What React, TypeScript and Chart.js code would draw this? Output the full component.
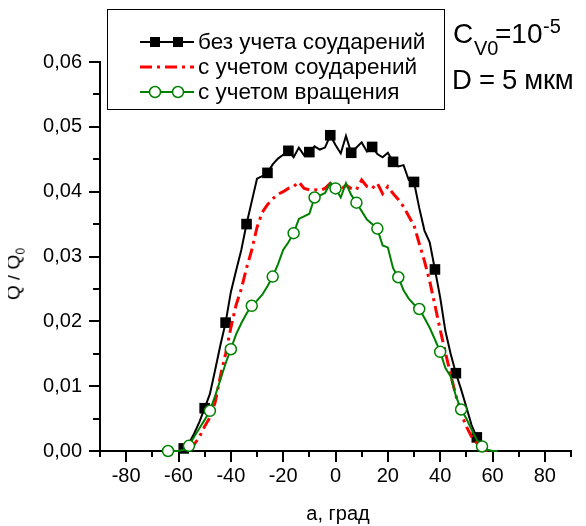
import React, { useEffect, useRef } from 'react';
import { Chart, registerables } from 'chart.js';

Chart.register(...registerables);

// ---- data ----
const angles = [
  -64, -62, -60, -58, -56, -54, -52, -50, -48, -46, -44, -42, -40, -38, -36, -34,
  -32, -30, -28, -26, -24, -22, -20, -18, -16, -14, -12, -10, -8, -6, -4, -2,
  0, 2, 4, 6, 8, 10, 12, 14, 16, 18, 20, 22, 24, 26, 28, 30,
  32, 34, 36, 38, 40, 42, 44, 46, 48, 50, 52, 54, 56, 58, 60, 62,
];

// без учета соударений (black, squares)
const noCollisions = [
  null, null, null, 0.0004, 0.0012, 0.0027, 0.0045, 0.0066, 0.0088, 0.0125, 0.0163, 0.0198, 0.0245, 0.0278, 0.031, 0.035,
  0.0385, 0.042, 0.0424, 0.0429, 0.0442, 0.0451, 0.0457, 0.0463, 0.0453, 0.0468, 0.0456, 0.0461, 0.047, 0.0465, 0.0468, 0.0487,
  0.0472, 0.0459, 0.0486, 0.046, 0.0468, 0.0476, 0.0462, 0.0469, 0.0458, 0.0453, 0.046, 0.0446, 0.0439, 0.0441, 0.0418, 0.0415,
  0.0375, 0.034, 0.0322, 0.028, 0.0237, 0.0185, 0.015, 0.012, 0.0095, 0.0068, 0.004, 0.0021, 0.0, null, null, null,
];

// с учетом соударений (red, dash-dot)
const withCollisions = [
  null, null, null, null, 0.0004, 0.001, 0.0022, 0.0038, 0.0052, 0.0075, 0.0115, 0.015, 0.019, 0.0225, 0.025, 0.0282,
  0.031, 0.0345, 0.0368, 0.038, 0.0389, 0.0396, 0.04, 0.0405, 0.0408, 0.0415, 0.0405, 0.0403, 0.0403, 0.0402, 0.0405, 0.0413,
  0.0405, 0.0403, 0.041, 0.0405, 0.0403, 0.0418, 0.0408, 0.0405, 0.0413, 0.0397, 0.0408, 0.0397, 0.0388, 0.0377, 0.0362, 0.0348,
  0.032, 0.0293, 0.0262, 0.0225, 0.0187, 0.0152, 0.0118, 0.0086, 0.0058, 0.0038, 0.0022, 0.0012, 0.0005, 0.0, null, null,
];

// с учетом вращения (green, circles)
const withRotation = [
  0.0, 0.0, 0.0, 0.0002, 0.0008, 0.0022, 0.0035, 0.0048, 0.0062, 0.0085, 0.011, 0.0135, 0.0157, 0.018, 0.0197, 0.0212,
  0.0224, 0.0232, 0.0241, 0.0254, 0.0269, 0.0288, 0.031, 0.0322, 0.0336, 0.0358, 0.0362, 0.0366, 0.0391, 0.0394, 0.0398, 0.0413,
  0.0405, 0.0391, 0.0413, 0.0395, 0.0383, 0.037, 0.0357, 0.035, 0.0343, 0.0317, 0.0314, 0.0282, 0.0268, 0.0248, 0.0235, 0.0226,
  0.0219, 0.0205, 0.019, 0.0172, 0.0153, 0.0128, 0.0115, 0.0085, 0.0064, 0.005, 0.0033, 0.0017, 0.0007, 0.0002, 0.0, 0.0,
];

const blackMarkerAngles = [-58, -50, -42, -34, -26, -18, -10, -2, 6, 14, 22, 30, 38, 46, 54];
const greenMarkerAngles = [-64, -56, -48, -40, -32, -24, -16, -8, 0, 8, 16, 24, 32, 40, 48, 56];

const xMajorTicks = [-80, -60, -40, -20, 0, 20, 40, 60, 80];
const xMinorTicks = [-90, -70, -50, -30, -10, 10, 30, 50, 70, 90];
const yMajorTicks = [0, 0.01, 0.02, 0.03, 0.04, 0.05, 0.06];
const yMinorTicks = [0.005, 0.015, 0.025, 0.035, 0.045, 0.055];

const legendLabels = ['без учета соударений', 'с учетом соударений', 'с учетом вращения'];

const FONT = "'Liberation Sans', Arial, sans-serif";
const GREEN = '#008000';
const RED = '#ff0000';

const toPoints = (vals: (number | null)[]) => angles.map((a, i) => ({ x: a, y: vals[i] }));

const minorTicksPlugin = {
  id: 'minorTicks',
  afterDraw(chart: any) {
    const { ctx, chartArea, scales } = chart;
    ctx.save();
    ctx.strokeStyle = '#000';
    ctx.lineWidth = 2;
    ctx.beginPath();
    xMinorTicks.forEach((v) => {
      const p = Math.round(scales.x.getPixelForValue(v));
      ctx.moveTo(p, chartArea.bottom);
      ctx.lineTo(p, chartArea.bottom + 6);
    });
    yMinorTicks.forEach((v) => {
      const p = Math.round(scales.y.getPixelForValue(v));
      ctx.moveTo(chartArea.left, p);
      ctx.lineTo(chartArea.left - 7, p);
    });
    ctx.stroke();
    ctx.restore();
  },
};

function ChartCanvas() {
  const ref = useRef<HTMLCanvasElement | null>(null);
  useEffect(() => {
    if (!ref.current) return;
    const chart = new Chart(ref.current, {
      type: 'line',
      data: {
        datasets: [
          {
            label: legendLabels[0],
            data: toPoints(noCollisions),
            borderColor: '#000',
            borderWidth: 2,
            backgroundColor: '#000',
            pointStyle: 'rect',
            pointBackgroundColor: '#000',
            pointBorderColor: '#000',
            pointBorderWidth: 0,
            pointRadius: (c: any) => (blackMarkerAngles.includes(angles[c.dataIndex]) ? 7.5 : 0),
            tension: 0,
            clip: false,
            order: 2,
          },
          {
            label: legendLabels[1],
            data: toPoints(withCollisions),
            borderColor: RED,
            borderWidth: 3,
            borderDash: [12, 5, 3, 5],
            pointRadius: 0,
            tension: 0,
            clip: false,
            order: 1,
          },
          {
            label: legendLabels[2],
            data: toPoints(withRotation),
            borderColor: GREEN,
            borderWidth: 2,
            pointStyle: 'circle',
            pointBackgroundColor: '#fff',
            pointBorderColor: GREEN,
            pointBorderWidth: 1.5,
            pointRadius: (c: any) => (greenMarkerAngles.includes(angles[c.dataIndex]) ? 5.5 : 0),
            tension: 0,
            clip: false,
            order: 0,
          },
        ],
      },
      options: {
        responsive: false,
        animation: false,
        events: [],
        layout: { padding: { top: 54, left: 0, right: 2, bottom: 0 } },
        plugins: { legend: { display: false }, tooltip: { enabled: false } },
        scales: {
          x: {
            type: 'linear',
            min: -90,
            max: 90,
            afterBuildTicks: (s: any) => {
              s.ticks = xMajorTicks.map((v) => ({ value: v }));
            },
            afterFit: (s: any) => {
              s.height = 67;
            },
            ticks: {
              color: '#000',
              font: { family: FONT, size: 20 },
              padding: 2,
              maxRotation: 0,
              autoSkip: false,
              callback: (v: any) => String(v),
            },
            grid: { display: true, drawOnChartArea: false, drawTicks: true, tickLength: 11, color: '#000', lineWidth: 2 },
            border: { display: true, color: '#000', width: 2 },
          },
          y: {
            type: 'linear',
            min: 0,
            max: 0.06,
            afterBuildTicks: (s: any) => {
              s.ticks = yMajorTicks.map((v) => ({ value: v }));
            },
            afterFit: (s: any) => {
              s.width = 92;
            },
            ticks: {
              color: '#000',
              font: { family: FONT, size: 20 },
              padding: 7,
              autoSkip: false,
              callback: (v: any) => Number(v).toFixed(2).replace('.', ','),
            },
            grid: { display: true, drawOnChartArea: false, drawTicks: true, tickLength: 11, color: '#000', lineWidth: 2 },
            border: { display: true, color: '#000', width: 2 },
          },
        },
      },
      plugins: [minorTicksPlugin],
    } as any);
    return () => chart.destroy();
  }, []);
  return <canvas ref={ref} width={570} height={510} style={{ display: 'block', width: 570, height: 510 }} />;
}

function LegendSample({ kind }: { kind: number }) {
  if (kind === 0) {
    return (
      <svg width={54} height={24}>
        <line x1={0} y1={12} x2={54} y2={12} stroke="#000" strokeWidth={2} />
        <rect x={10} y={7} width={10} height={10} fill="#000" />
        <rect x={33} y={7} width={10} height={10} fill="#000" />
      </svg>
    );
  }
  if (kind === 1) {
    return (
      <svg width={54} height={24}>
        <line x1={0} y1={12} x2={54} y2={12} stroke={RED} strokeWidth={3} strokeDasharray="12 5 3 5" />
      </svg>
    );
  }
  return (
    <svg width={54} height={24}>
      <line x1={0} y1={12} x2={54} y2={12} stroke={GREEN} strokeWidth={2} />
      <circle cx={15} cy={12} r={5.5} fill="#fff" stroke={GREEN} strokeWidth={1.5} />
      <circle cx={38} cy={12} r={5.5} fill="#fff" stroke={GREEN} strokeWidth={1.5} />
    </svg>
  );
}

const abs = (left: number, top: number, size: number): React.CSSProperties => ({
  position: 'absolute',
  left,
  top,
  fontFamily: FONT,
  fontSize: size,
  lineHeight: `${size}px`,
  whiteSpace: 'nowrap',
});

export default function App() {
  useEffect(() => {
    const prev = document.documentElement.style.overflow;
    document.documentElement.style.overflow = 'hidden';
    return () => {
      document.documentElement.style.overflow = prev;
    };
  }, []);
  const rowTops = [33, 58, 83];
  return (
    <div style={{ position: 'relative', width: 570, height: 518, fontFamily: FONT, color: '#000' }}>
      <ChartCanvas />
      {/* legend */}
      <div
        style={{
          position: 'absolute',
          left: 99,
          top: 1,
          width: 338,
          height: 101,
          boxSizing: 'border-box',
          border: '1px solid #000',
        }}
      >
        {legendLabels.map((lab, i) => (
          <div key={i} style={{ position: 'absolute', left: 0, top: rowTops[i] - 13, height: 24, width: 336 }}>
            <div style={{ position: 'absolute', left: 32, top: 0 }}>
              <LegendSample kind={i} />
            </div>
            <span
              style={{
                position: 'absolute',
                left: 90,
                top: 0,
                fontFamily: FONT,
                fontSize: 22.5,
                lineHeight: '24px',
                whiteSpace: 'nowrap',
              }}
            >
              {lab}
            </span>
          </div>
        ))}
      </div>
      {/* annotation */}
      <span style={abs(445, 12, 28)}>C</span>
      <span style={abs(466, 30, 20)}>V0</span>
      <span style={abs(487, 12, 28)}>=10</span>
      <span style={abs(535, 8, 20)}>-5</span>
      <span style={{ ...abs(444, 58, 27.5), letterSpacing: -0.3 }}>D = 5 мкм</span>
      {/* axis titles */}
      <div
        style={{
          position: 'absolute',
          left: 9,
          top: 266,
          transform: 'translate(-50%, -50%) rotate(-90deg)',
          fontFamily: FONT,
          fontSize: 19,
          lineHeight: '22px',
          whiteSpace: 'nowrap',
        }}
      >
        Q / Q<sub style={{ fontFamily: FONT, fontSize: 12 }}>0</sub>
      </div>
      <div
        style={{
          position: 'absolute',
          left: 330,
          top: 495,
          transform: 'translateX(-50%)',
          fontFamily: FONT,
          fontSize: 20,
          lineHeight: '20px',
          whiteSpace: 'nowrap',
        }}
      >
        a, град
      </div>
    </div>
  );
}
